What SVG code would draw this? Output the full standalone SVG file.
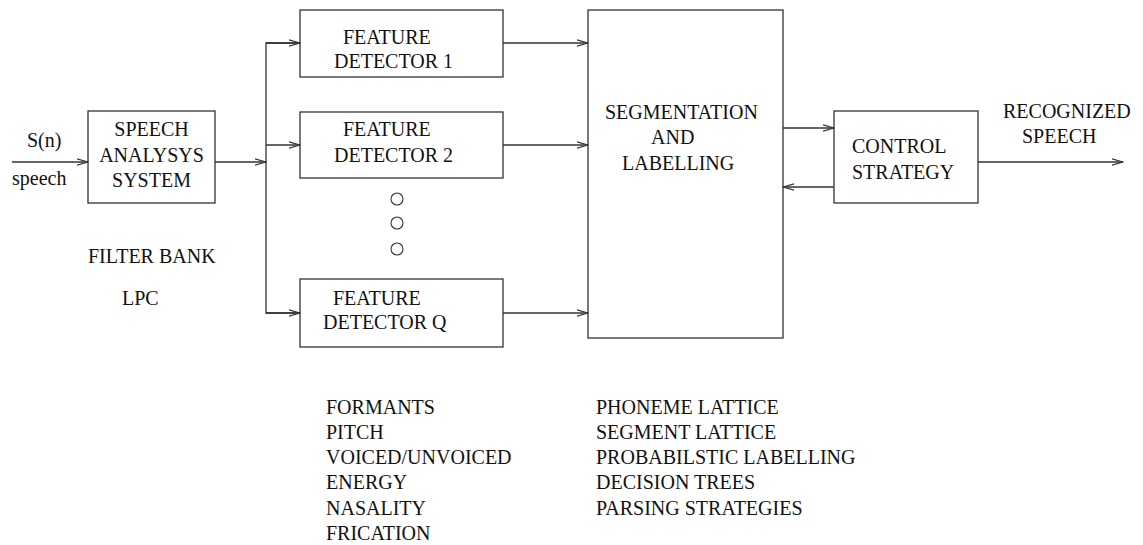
<svg xmlns="http://www.w3.org/2000/svg" width="1143" height="545" viewBox="0 0 1143 545">
<style>
text{font-family:"Liberation Serif","Times New Roman",serif;font-size:20px;fill:#111}
.box{fill:none;stroke:#333;stroke-width:1.3}
.ln{fill:none;stroke:#333;stroke-width:1.3}
.dot{fill:none;stroke:#333;stroke-width:1.1}
</style>
<defs>
<marker id="ah" markerUnits="userSpaceOnUse" markerWidth="12" markerHeight="10" refX="11" refY="4" orient="auto" viewBox="0 0 12 8">
<path d="M0,0.8 L11,4 L0,7.2" fill="none" stroke="#333" stroke-width="1.2"/>
</marker>
</defs>
<g id="connectors">
<line class="ln" x1="12" y1="162" x2="88" y2="162" marker-end="url(#ah)"/>
<line class="ln" x1="215" y1="162" x2="266" y2="162" marker-end="url(#ah)"/>
<polyline class="ln" points="300,43 266,43 266,313 300,313"/>
<line class="ln" x1="266" y1="43" x2="300" y2="43" marker-end="url(#ah)"/>
<line class="ln" x1="266" y1="145" x2="300" y2="145" marker-end="url(#ah)"/>
<line class="ln" x1="266" y1="313" x2="300" y2="313" marker-end="url(#ah)"/>
<line class="ln" x1="503" y1="43" x2="588" y2="43" marker-end="url(#ah)"/>
<line class="ln" x1="503" y1="145" x2="588" y2="145" marker-end="url(#ah)"/>
<line class="ln" x1="503" y1="313" x2="588" y2="313" marker-end="url(#ah)"/>
<line class="ln" x1="783" y1="128" x2="834" y2="128" marker-end="url(#ah)"/>
<line class="ln" x1="834" y1="187" x2="783" y2="187" marker-end="url(#ah)"/>
<line class="ln" x1="978" y1="162" x2="1123" y2="162" marker-end="url(#ah)"/>
</g>
<g id="input-labels">
<text x="27" y="147">S(n)</text>
<text x="12" y="185">speech</text>
</g>
<g id="speech-analysis">
<rect class="box" x="88" y="111" width="127" height="92"/>
<text x="151.5" y="136" text-anchor="middle">SPEECH</text>
<text x="151.5" y="162" text-anchor="middle">ANALYSYS</text>
<text x="151.5" y="187" text-anchor="middle">SYSTEM</text>
</g>
<g id="analysis-notes">
<text x="88" y="263">FILTER BANK</text>
<text x="122" y="305">LPC</text>
</g>
<g id="feature-detector-1">
<rect class="box" x="300" y="10" width="203" height="67"/>
<text x="343" y="44">FEATURE</text>
<text x="334" y="68">DETECTOR 1</text>
</g>
<g id="feature-detector-2">
<rect class="box" x="300" y="112" width="203" height="66"/>
<text x="343" y="136">FEATURE</text>
<text x="334" y="162">DETECTOR 2</text>
</g>
<g id="ellipsis">
<circle class="dot" cx="397" cy="199" r="6"/>
<circle class="dot" cx="397" cy="223" r="6"/>
<circle class="dot" cx="397" cy="249" r="6"/>
</g>
<g id="feature-detector-q">
<rect class="box" x="300" y="279" width="203" height="68"/>
<text x="333" y="305">FEATURE</text>
<text x="323" y="329">DETECTOR Q</text>
</g>
<g id="segmentation">
<rect class="box" x="588" y="10" width="195" height="328"/>
<text x="605" y="119">SEGMENTATION</text>
<text x="651" y="144">AND</text>
<text x="622" y="170">LABELLING</text>
</g>
<g id="control-strategy">
<rect class="box" x="834" y="111" width="144" height="92"/>
<text x="852" y="153">CONTROL</text>
<text x="852" y="179">STRATEGY</text>
</g>
<g id="output-label">
<text x="1003" y="118">RECOGNIZED</text>
<text x="1022" y="143">SPEECH</text>
</g>
<g id="feature-list">
<text x="326" y="414">FORMANTS</text>
<text x="326" y="439">PITCH</text>
<text x="326" y="464">VOICED/UNVOICED</text>
<text x="326" y="489">ENERGY</text>
<text x="326" y="515">NASALITY</text>
<text x="326" y="540">FRICATION</text>
</g>
<g id="segmentation-list">
<text x="596" y="414">PHONEME LATTICE</text>
<text x="596" y="439">SEGMENT LATTICE</text>
<text x="596" y="464">PROBABILSTIC LABELLING</text>
<text x="596" y="489">DECISION TREES</text>
<text x="596" y="515">PARSING STRATEGIES</text>
</g>
</svg>
